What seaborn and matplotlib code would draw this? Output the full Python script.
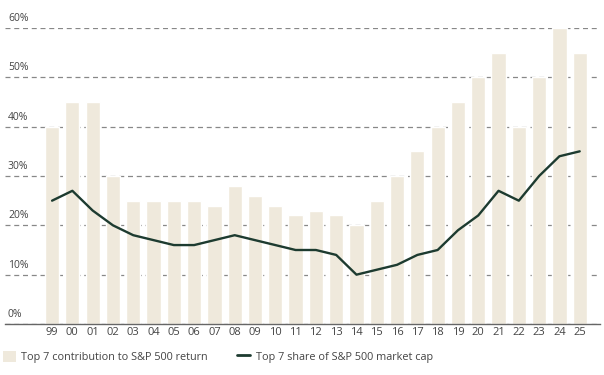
import numpy as np
import pandas as pd
import matplotlib.pyplot as plt
import matplotlib.transforms as mtransforms
from matplotlib.patches import Patch
from matplotlib.lines import Line2D
import seaborn as sns

years = ["99", "00", "01", "02", "03", "04", "05", "06", "07", "08", "09", "10", "11",
         "12", "13", "14", "15", "16", "17", "18", "19", "20", "21", "22", "23", "24", "25"]
contribution = [40, 45, 45, 30, 25, 25, 25, 25, 24, 28, 26, 24, 22,
                23, 22, 20, 25, 30, 35, 40, 45, 50, 55, 40, 50, 60, 55]
market_share = [25, 27, 23, 20, 18, 17, 16, 16, 17, 18, 17, 16, 15,
                15, 14, 10, 11, 12, 14, 15, 19, 22, 27, 25, 30, 34, 35]
y_ticks = [0, 10, 20, 30, 40, 50, 60]

bar_color = "#efe9dc"
line_color = "#1d3b30"
text_color = "#444444"

df = pd.DataFrame({"year": years, "contribution": contribution, "share": market_share})
df["pos"] = np.arange(len(years))

sns.set_style("white")
plt.rcParams["font.family"] = ["Open Sans", "DejaVu Sans"]

fig = plt.figure(figsize=(6.04, 3.75), dpi=100)
ax = fig.add_axes([5 / 604, 51 / 375, 595 / 604, 296 / 375])

# gridlines first so the bars sit on top of them
ax.set_axisbelow(True)
ax.grid(axis="y", color="#888888", linestyle=(0, (4, 3)), linewidth=0.9)

sns.barplot(data=df, x="year", y="contribution", color=bar_color, width=0.7,
            saturation=1, ax=ax)
sns.lineplot(data=df, x="pos", y="share", color=line_color, linewidth=1.7, ax=ax, zorder=3)

ax.set_xlim(-2.32, 27.0)
ax.set_ylim(0, 60)
ax.set_yticks(y_ticks)
ax.set_yticklabels([])
ax.tick_params(axis="y", length=0)

offset = mtransforms.offset_copy(ax.get_yaxis_transform(), fig=fig, x=3, y=4, units="dots")
for t in y_ticks:
    ax.text(0, t, f"{t}%", transform=offset, ha="left", va="bottom",
            fontsize=7.5, color=text_color)

ax.set_xticks(df["pos"])
ax.set_xticklabels(years)
ax.tick_params(axis="x", length=0, pad=2, labelsize=8, labelcolor=text_color)
ax.set_xlabel("")
ax.set_ylabel("")
for s in ["top", "left", "right"]:
    ax.spines[s].set_visible(False)
ax.spines["bottom"].set_color("#666666")
ax.spines["bottom"].set_linewidth(1)

handles = [
    Patch(facecolor=bar_color, edgecolor="none"),
    Line2D([0], [0], color=line_color, linewidth=2),
]
labels = ["Top 7 contribution to S&P 500 return", "Top 7 share of S&P 500 market cap"]
fig.legend(handles, labels, loc="lower left", bbox_to_anchor=(-0.006, 0.015), ncol=2,
           frameon=False, fontsize=7.8, labelcolor=text_color, handlelength=1.2,
           handleheight=1.2, handletextpad=0.5, columnspacing=2.7, borderaxespad=0.2)

fig.savefig("out.png", dpi=100)
